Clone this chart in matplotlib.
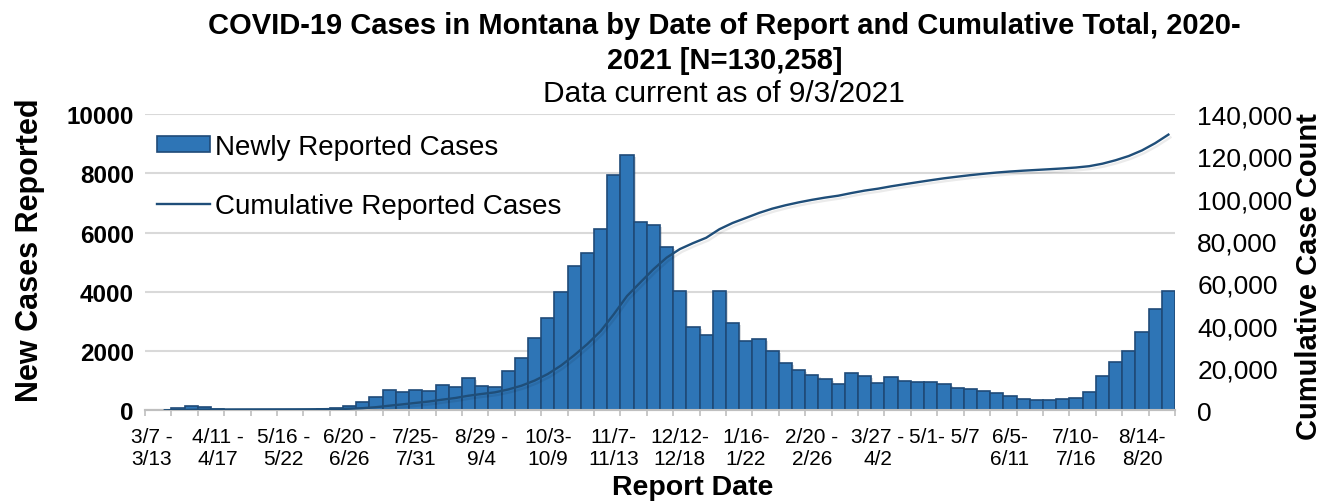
"""Montana COVID-19 weekly new cases (bars) with cumulative total (line)."""

import matplotlib.patheffects as pe
import matplotlib.pyplot as plt
import numpy as np
from matplotlib.ticker import FuncFormatter

plt.rcParams["font.family"] = ["Liberation Sans", "DejaVu Sans"]

# one value per report week, 3/7-3/13/2020 through 8/28-9/3/2021
NEW_CASES = [
    0, 20, 80, 135, 100, 45, 25, 15, 10, 10,
    10, 15, 25, 45, 70, 135, 280, 450, 700, 630,
    700, 660, 850, 800, 1080, 830, 770, 1340, 1765, 2430,
    3110, 3990, 4855, 5320, 6110, 7945, 8620, 6370, 6270, 5510,
    4035, 2820, 2550, 4035, 2955, 2350, 2395, 2010, 1595, 1370,
    1200, 1056, 900, 1260, 1146, 910, 1113, 990, 955, 940,
    900, 764, 730, 652, 585, 483, 393, 348, 348, 371,
    427, 630, 1170, 1640, 2000, 2650, 3417, 4040,
]
# cumulative line (starts at the second week)
CUMULATIVE = [
    None, 20, 100, 235, 335, 380, 405, 420, 430, 440,
    450, 465, 490, 535, 605, 740, 1020, 1470, 2170, 2800,
    3500, 4160, 5010, 5810, 6890, 7720, 8490, 9830, 11595, 14025,
    17135, 21125, 25980, 31300, 37410, 45355, 53975, 60345, 66615, 72125,
    76160, 78980, 81530, 85565, 88520, 90870, 93265, 95275, 96870, 98240,
    99440, 100496, 101396, 102656, 103802, 104712, 105825, 106815, 107770, 108710,
    109610, 110374, 111104, 111756, 112341, 112824, 113217, 113565, 113913, 114284,
    114711, 115341, 116511, 118151, 120151, 122801, 126218, 130258,
]
# labelled every fifth week
WEEK_LABELS = [
    "3/7 -\n3/13", "4/11 -\n4/17", "5/16 -\n5/22", "6/20 -\n6/26",
    "7/25-\n7/31", "8/29 -\n9/4", "10/3-\n10/9", "11/7-\n11/13",
    "12/12-\n12/18", "1/16-\n1/22", "2/20 -\n2/26", "3/27 -\n4/2",
    "5/1- 5/7", "6/5-\n6/11", "7/10-\n7/16", "8/14-\n8/20",
]

BAR_COLOR = "#2E75B6"
BAR_EDGE = "#1F4A78"
LINE_COLOR = "#1F4E79"
GRID_COLOR = "#D9D9D9"


def main() -> None:
    fig = plt.figure(figsize=(13.34, 5.02), dpi=100)
    ax = fig.add_axes([145 / 1334, 1 - 411.3 / 502, 1030 / 1334, 296.3 / 502])
    ax2 = ax.twinx()

    x = np.arange(len(NEW_CASES))
    shadow = [pe.SimplePatchShadow(offset=(1.5, -1.5), alpha=0.15), pe.Normal()]
    ax.bar(x, NEW_CASES, width=1.0, color=BAR_COLOR, edgecolor=BAR_EDGE,
           linewidth=1.2, zorder=3, path_effects=shadow)

    cum = np.array([np.nan if v is None else v for v in CUMULATIVE], dtype=float)
    ax2.plot(x, cum, color=LINE_COLOR, linewidth=1.7, zorder=4,
             path_effects=[pe.SimpleLineShadow(offset=(1.5, -2), alpha=0.08), pe.Normal()])

    ax.set_xlim(-0.5, len(NEW_CASES) - 0.5)
    ax.set_ylim(0, 10000)
    ax2.set_ylim(0, 140000)

    ax.set_yticks(range(0, 10001, 2000))
    ax.tick_params(axis="y", length=0, pad=8, labelsize=17.5)
    for lab in ax.get_yticklabels():
        lab.set_fontweight("bold")
    ax2.set_yticks(range(0, 140001, 20000))
    ax2.yaxis.set_major_formatter(FuncFormatter(lambda v, _: f"{int(v):,}"))
    ax2.tick_params(axis="y", length=0, pad=16, labelsize=19)

    ax.set_xticks(range(0, len(NEW_CASES), 5))
    ax.set_xticklabels(WEEK_LABELS, fontsize=15, linespacing=1.2)
    ax.set_xticks(np.arange(-0.5, len(NEW_CASES), 2), minor=True)
    ax.tick_params(axis="x", which="major", length=0, pad=12)
    ax.tick_params(axis="x", which="minor", length=4, color="#BFBFBF", width=1.2)

    ax.grid(axis="y", color=GRID_COLOR, linewidth=1.5, zorder=0)
    ax.set_axisbelow(True)
    for a in (ax, ax2):
        for side in ("top", "left", "right"):
            a.spines[side].set_visible(False)
        a.spines["bottom"].set_color("#BFBFBF")
        a.spines["bottom"].set_linewidth(1.5)
    ax.set_zorder(ax2.get_zorder() - 1)
    ax.patch.set_visible(False)
    ax2.patch.set_visible(False)

    ax.set_ylabel("New Cases Reported", fontsize=22, fontweight="bold", va="center")
    ax.yaxis.set_label_coords((30 - 145) / 1030, (411.3 - 250) / 296.3)
    ax2.set_ylabel("Cumulative Case Count", fontsize=21, fontweight="bold",
                   va="center", rotation=90)
    ax2.yaxis.set_label_coords((1309 - 145) / 1030, (411.3 - 277) / 296.3)
    ax.set_xlabel("Report Date", fontsize=20.5, fontweight="bold", va="center")
    ax.xaxis.set_label_coords((693 - 145) / 1030, (411.3 - 488) / 296.3)

    fig.text(0.543, 1 - 12 / 502,
             "COVID-19 Cases in Montana by Date of Report and Cumulative Total, 2020-\n"
             "2021 [N=130,258]",
             ha="center", va="top", fontsize=21, fontweight="bold", linespacing=1.3)
    fig.text(0.543, 1 - 94 / 502, "Data current as of 9/3/2021",
             ha="center", va="center", fontsize=21.5)

    handles = [
        plt.Rectangle((0, 0), 1, 1, facecolor=BAR_COLOR, edgecolor=BAR_EDGE, linewidth=1.2),
        plt.Line2D([], [], color=LINE_COLOR, linewidth=1.7),
    ]
    ax2.legend(handles, ["Newly Reported Cases", "Cumulative Reported Cases"],
               loc="upper left", bbox_to_anchor=(0.0117, 0.933), frameon=False,
               fontsize=20, borderpad=0, borderaxespad=0, handlelength=1.9,
               handleheight=0.5, handletextpad=0.2, labelspacing=1.2)

    fig.savefig("out.png", dpi=100)
    plt.close(fig)


if __name__ == "__main__":
    main()
